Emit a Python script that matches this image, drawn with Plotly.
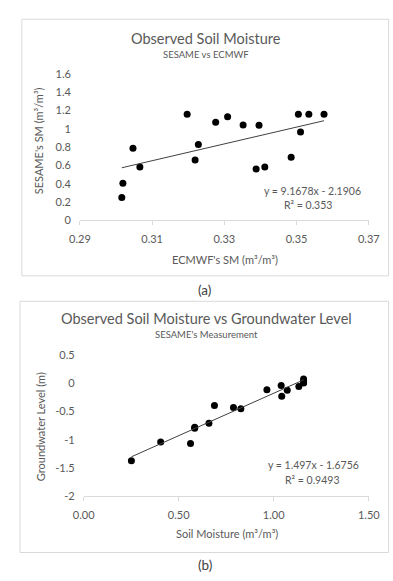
import plotly.graph_objects as go

# ---------------- data ----------------
# (a) ECMWF vs SESAME soil moisture
ecmwf_sm = [0.3016, 0.3019, 0.3047, 0.3066, 0.3197, 0.3219, 0.3228, 0.3276, 0.3309,
            0.3352, 0.3388, 0.3396, 0.3412, 0.3485, 0.3505, 0.3511, 0.3534, 0.3576]
sesame_sm = [0.251, 0.405, 0.788, 0.584, 1.157, 0.659, 0.827, 1.071, 1.132,
             1.042, 0.562, 1.039, 0.584, 0.688, 1.157, 0.964, 1.157, 1.157]
trend_a = (9.1678, -2.1906)
eq_a = ["y = 9.1678x - 2.1906", "R² = 0.353"]

# (b) SESAME soil moisture vs groundwater level
soil_moisture = [0.251, 0.405, 0.562, 0.584, 0.584, 0.659, 0.688, 0.788, 0.827,
                 0.964, 1.039, 1.042, 1.071, 1.132, 1.157, 1.157, 1.157, 1.157]
gw_level = [-1.368, -1.038, -1.067, -0.780, -0.795, -0.707, -0.394, -0.429, -0.452,
            -0.116, -0.041, -0.232, -0.128, -0.058, 0.070, 0.040, 0.010, 0.000]
trend_b = (1.497, -1.6756)
eq_b = ["y = 1.497x - 1.6756", "R² = 0.9493"]

xa_ticks = [0.29, 0.31, 0.33, 0.35, 0.37]
xa_text = ["0.29", "0.31", "0.33", "0.35", "0.37"]
ya_ticks = [0, 0.2, 0.4, 0.6, 0.8, 1.0, 1.2, 1.4, 1.6]
ya_text = ["0", "0.2", "0.4", "0.6", "0.8", "1", "1.2", "1.4", "1.6"]
xb_ticks = [0, 0.5, 1.0, 1.5]
xb_text = ["0.00", "0.50", "1.00", "1.50"]
yb_ticks = [-2, -1.5, -1, -0.5, 0, 0.5]
yb_text = ["-2", "-1.5", "-1", "-0.5", "0", "0.5"]

# ---------------- layout helpers ----------------
W, H = 393, 581
FONT = "Lato"
GREY = "#595959"


def fx(px):
    return px / W


def fy(py):
    return 1 - py / H


fig = go.Figure()

fig.add_trace(go.Scatter(x=ecmwf_sm, y=sesame_sm, mode="markers",
                         marker=dict(color="#000000", size=7), xaxis="x", yaxis="y",
                         showlegend=False))
xa_line = [min(ecmwf_sm), max(ecmwf_sm)]
fig.add_trace(go.Scatter(x=xa_line, y=[trend_a[0] * v + trend_a[1] for v in xa_line],
                         mode="lines", line=dict(color="#404040", width=1),
                         xaxis="x", yaxis="y", showlegend=False))

fig.add_trace(go.Scatter(x=soil_moisture, y=gw_level, mode="markers",
                         marker=dict(color="#000000", size=7), xaxis="x2", yaxis="y2",
                         showlegend=False))
xb_line = [min(soil_moisture), max(soil_moisture)]
fig.add_trace(go.Scatter(x=xb_line, y=[trend_b[0] * v + trend_b[1] for v in xb_line],
                         mode="lines", line=dict(color="#404040", width=1),
                         xaxis="x2", yaxis="y2", showlegend=False))

tickfont = dict(family=FONT, size=11, color=GREY)
xcommon = dict(showgrid=False, zeroline=False, showline=True, linecolor="#d9d9d9",
               linewidth=1, ticks="outside", ticklen=4, tickcolor="#d9d9d9",
               tickfont=tickfont, fixedrange=True, ticklabelstandoff=4)
ycommon = dict(showgrid=False, zeroline=False, showline=False, ticks="",
               tickfont=tickfont, fixedrange=True, ticklabelstandoff=8)

fig.update_layout(
    width=W, height=H, margin=dict(l=0, r=0, t=0, b=0),
    paper_bgcolor="white", plot_bgcolor="white",
    xaxis=dict(domain=[fx(73), fx(379)], range=[0.29, 0.37], tickvals=xa_ticks,
               ticktext=xa_text, anchor="y", **xcommon),
    yaxis=dict(domain=[fy(218.3), fy(68.3)], range=[0, 1.6], tickvals=ya_ticks,
               ticktext=ya_text, anchor="x", **ycommon),
    xaxis2=dict(domain=[fx(77), fx(379)], range=[0, 1.5], tickvals=xb_ticks,
                ticktext=xb_text, anchor="y2", **xcommon),
    yaxis2=dict(domain=[fy(500.7), fy(355.7)], range=[-2, 0.5], tickvals=yb_ticks,
                ticktext=yb_text, anchor="x2", **ycommon),
)

# boxes
fig.add_shape(type="rect", xref="paper", yref="paper", x0=fx(11.5), x1=fx(400),
              y0=fy(275), y1=fy(12.5), line=dict(color="#d9d9d9", width=1))
fig.add_shape(type="rect", xref="paper", yref="paper", x0=fx(9.5), x1=fx(400),
              y0=fy(558), y1=fy(301), line=dict(color="#d9d9d9", width=1))


def ann(text, x, y, size, color=GREY, angle=0):
    fig.add_annotation(text=text, x=fx(x), y=fy(y), xref="paper", yref="paper",
                       showarrow=False, xanchor="center", yanchor="middle",
                       textangle=angle, font=dict(family=FONT, size=size, color=color))


ann("Observed Soil Moisture", 207, 32, 14.5)
ann("SESAME vs ECMWF", 207, 48.5, 9.5)
ann("SESAME's SM (m³/m³)", 30, 137, 11, angle=-90)
ann("ECMWF's SM (m³/m³)", 227, 258, 11)
ann(eq_a[0], 319, 188, 10.5)
ann(eq_a[1], 315, 202.5, 10.5)
ann("(a)", 205, 289, 13.5, color="#404040")

ann("Observed Soil Moisture vs Groundwater Level", 207.5, 319, 14.5)
ann("SESAME's Measurement", 207, 335.5, 9.5)
ann("Groundwater Level (m)", 31.5, 429, 11, angle=-90)
ann("Soil Moisture (m³/m³)", 229, 538.5, 11)
ann(eq_b[0], 320.5, 468.5, 10.5)
ann(eq_b[1], 318.5, 483.5, 10.5)
ann("(b)", 205, 571, 13.5, color="#404040")

fig.write_html("out.html", config={"displayModeBar": False, "staticPlot": True},
               post_script="document.body.style.margin='0';document.body.style.overflow='hidden';")
